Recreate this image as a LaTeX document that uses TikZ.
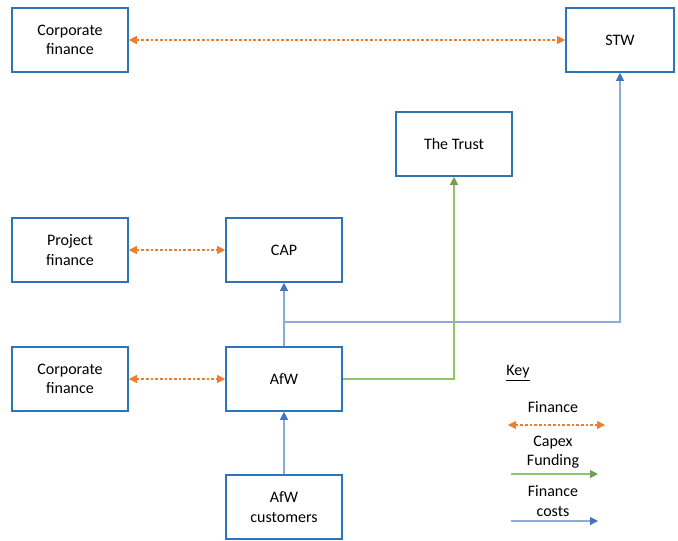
\documentclass[tikz,border=0pt]{standalone}
\usepackage{fontspec}
\setmainfont{Carlito}
\usetikzlibrary{arrows.meta}
\definecolor{boxblue}{HTML}{2E75B6}
\definecolor{costblue}{HTML}{8EA9DB}
\definecolor{tipblue}{HTML}{4472C4}
\definecolor{finorange}{HTML}{ED7D31}
\definecolor{capexgreen}{HTML}{8FC46A}
\tikzset{
  unit/.style={draw=boxblue,line width=1.2pt,fill=white,minimum width=87pt,minimum height=48pt,align=center,inner sep=2pt,font=\fontsize{12}{14.5}\selectfont},
  finance/.style={finorange,dashed,dash pattern=on 2pt off 1.5pt,line width=0.8pt,{Triangle[length=6pt,width=6pt]}-{Triangle[length=6pt,width=6pt]}},
  capex/.style={capexgreen,line width=0.8pt,-{Triangle[length=6pt,width=6pt,color=capexgreen!80!black]}},
  cost/.style={costblue,line width=0.8pt,-{Triangle[length=6pt,width=6pt,color=tipblue]}},
  keytext/.style={align=center,font=\fontsize{12}{14.5}\selectfont}
}
\begin{document}
\begin{tikzpicture}[x=0.75pt,y=-0.75pt]
  \useasboundingbox (0,0) rectangle (678,540);
  % boxes
  \node (cfTop) at (70,40) [unit] {Corporate\\finance};
  \node (stw) at (620,40) [unit,minimum width=81pt] {STW};
  \node (trust) at (454,144) [unit] {The Trust};
  \node (pf) at (70,250) [unit] {Project\\finance};
  \node (cap) at (284,250) [unit] {CAP};
  \node (cfMid) at (70,379) [unit] {Corporate\\finance};
  \node (afw) at (284,379) [unit] {AfW};
  \node (cust) at (284,507) [unit] {AfW\\customers};
  % flows
  \draw[finance] (cfTop) -- (stw);
  \draw[finance] (pf) -- (cap);
  \draw[finance] (cfMid) -- (afw);
  \draw[cost] (cust) -- (afw);
  \draw[cost] (afw) -- (cap);
  \coordinate (split) at (284,322);
  \draw[cost] (split) -| (stw.south);
  \draw[capex] (afw.east) -| (trust.south);
  % key
  \node (key) at (518,373) [keytext] {\underline{Key}};
  \node (kFin) at (553,407) [keytext] {Finance};
  \coordinate (kFinA) at (508,425);
  \coordinate (kFinB) at (605,425);
  \draw[finance] (kFinA) -- (kFinB);
  \node (kCapex) at (553,452) [keytext] {Capex\\Funding};
  \coordinate (kCapexA) at (511,474);
  \coordinate (kCapexB) at (598,474);
  \draw[capex] (kCapexA) -- (kCapexB);
  \node (kCost) at (553,501) [keytext] {Finance\\costs};
  \coordinate (kCostA) at (511,521);
  \coordinate (kCostB) at (598,521);
  \draw[cost] (kCostA) -- (kCostB);
\end{tikzpicture}
\end{document}
